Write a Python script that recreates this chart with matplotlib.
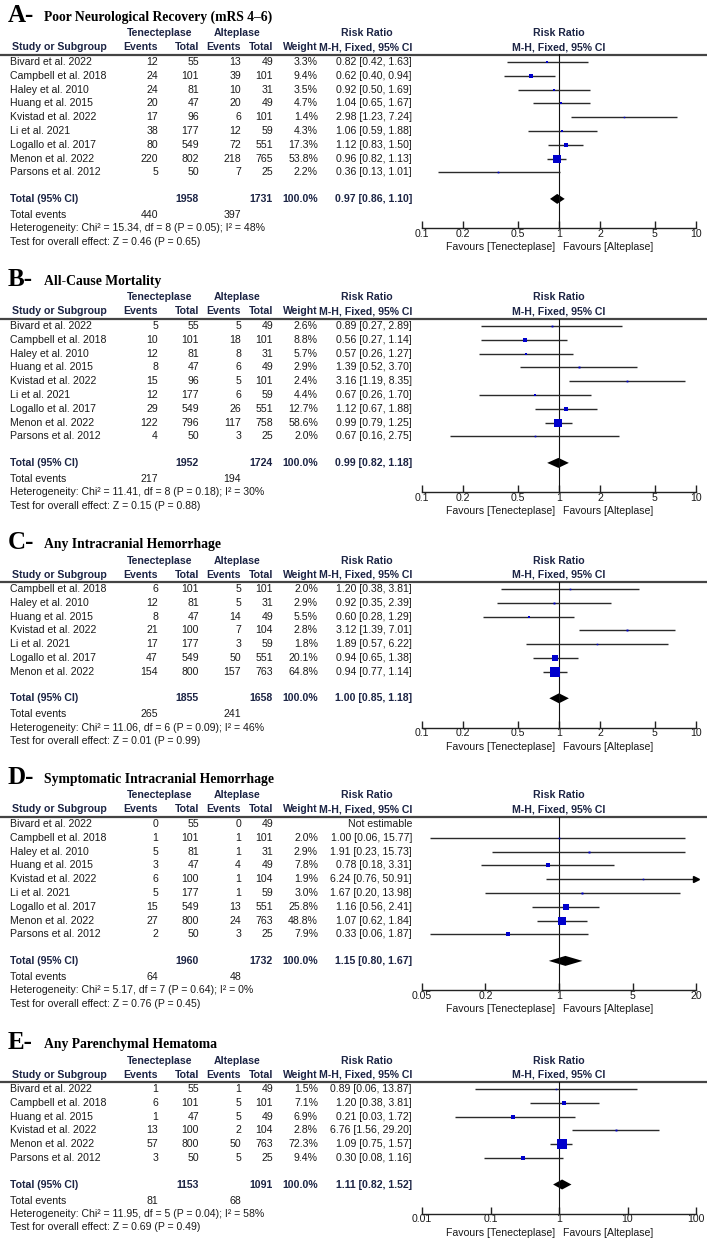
import matplotlib.pyplot as plt

plt.rcParams['font.family'] = ['Liberation Sans', 'DejaVu Sans']

W, H = 707, 1239
FS = 7.6
TXT = '#1a1a1a'
BOLD = '#1c2444'
BLUE = '#0000cc'

# ---- data ----
studies9 = ["Bivard et al. 2022", "Campbell et al. 2018", "Haley et al. 2010", "Huang et al. 2015",
            "Kvistad et al. 2022", "Li et al. 2021", "Logallo et al. 2017", "Menon et al. 2022",
            "Parsons et al. 2012"]

# A - poor neurological recovery
te_a = [12, 24, 24, 20, 17, 38, 80, 220, 5]
tn_a = [55, 101, 81, 47, 96, 177, 549, 802, 50]
ae_a = [13, 39, 10, 20, 6, 12, 72, 218, 7]
an_a = [49, 101, 31, 49, 101, 59, 551, 765, 25]
w_a = [3.3, 9.4, 3.5, 4.7, 1.4, 4.3, 17.3, 53.8, 2.2]
rr_a = [0.82, 0.62, 0.92, 1.04, 2.98, 1.06, 1.12, 0.96, 0.36]
lo_a = [0.42, 0.40, 0.50, 0.65, 1.23, 0.59, 0.83, 0.82, 0.13]
hi_a = [1.63, 0.94, 1.69, 1.67, 7.24, 1.88, 1.50, 1.13, 1.01]
tot_a = [1958, 1731, 0.97, 0.86, 1.10, 440, 397]
het_a = "Heterogeneity: Chi² = 15.34, df = 8 (P = 0.05); I² = 48%"
z_a = "Test for overall effect: Z = 0.46 (P = 0.65)"

# B - all-cause mortality
te_b = [5, 10, 12, 8, 15, 12, 29, 122, 4]
tn_b = [55, 101, 81, 47, 96, 177, 549, 796, 50]
ae_b = [5, 18, 8, 6, 5, 6, 26, 117, 3]
an_b = [49, 101, 31, 49, 101, 59, 551, 758, 25]
w_b = [2.6, 8.8, 5.7, 2.9, 2.4, 4.4, 12.7, 58.6, 2.0]
rr_b = [0.89, 0.56, 0.57, 1.39, 3.16, 0.67, 1.12, 0.99, 0.67]
lo_b = [0.27, 0.27, 0.26, 0.52, 1.19, 0.26, 0.67, 0.79, 0.16]
hi_b = [2.89, 1.14, 1.27, 3.70, 8.35, 1.70, 1.88, 1.25, 2.75]
tot_b = [1952, 1724, 0.99, 0.82, 1.18, 217, 194]
het_b = "Heterogeneity: Chi² = 11.41, df = 8 (P = 0.18); I² = 30%"
z_b = "Test for overall effect: Z = 0.15 (P = 0.88)"

# C - any intracranial hemorrhage
studies_c = ["Campbell et al. 2018", "Haley et al. 2010", "Huang et al. 2015", "Kvistad et al. 2022",
             "Li et al. 2021", "Logallo et al. 2017", "Menon et al. 2022"]
te_c = [6, 12, 8, 21, 17, 47, 154]
tn_c = [101, 81, 47, 100, 177, 549, 800]
ae_c = [5, 5, 14, 7, 3, 50, 157]
an_c = [101, 31, 49, 104, 59, 551, 763]
w_c = [2.0, 2.9, 5.5, 2.8, 1.8, 20.1, 64.8]
rr_c = [1.20, 0.92, 0.60, 3.12, 1.89, 0.94, 0.94]
lo_c = [0.38, 0.35, 0.28, 1.39, 0.57, 0.65, 0.77]
hi_c = [3.81, 2.39, 1.29, 7.01, 6.22, 1.38, 1.14]
tot_c = [1855, 1658, 1.00, 0.85, 1.18, 265, 241]
het_c = "Heterogeneity: Chi² = 11.06, df = 6 (P = 0.09); I² = 46%"
z_c = "Test for overall effect: Z = 0.01 (P = 0.99)"

# D - symptomatic intracranial hemorrhage
te_d = [0, 1, 5, 3, 6, 5, 15, 27, 2]
tn_d = [55, 101, 81, 47, 100, 177, 549, 800, 50]
ae_d = [0, 1, 1, 4, 1, 1, 13, 24, 3]
an_d = [49, 101, 31, 49, 104, 59, 551, 763, 25]
w_d = [None, 2.0, 2.9, 7.8, 1.9, 3.0, 25.8, 48.8, 7.9]
rr_d = [None, 1.00, 1.91, 0.78, 6.24, 1.67, 1.16, 1.07, 0.33]
lo_d = [None, 0.06, 0.23, 0.18, 0.76, 0.20, 0.56, 0.62, 0.06]
hi_d = [None, 15.77, 15.73, 3.31, 50.91, 13.98, 2.41, 1.84, 1.87]
tot_d = [1960, 1732, 1.15, 0.80, 1.67, 64, 48]
het_d = "Heterogeneity: Chi² = 5.17, df = 7 (P = 0.64); I² = 0%"
z_d = "Test for overall effect: Z = 0.76 (P = 0.45)"

# E - any parenchymal hematoma
studies_e = ["Bivard et al. 2022", "Campbell et al. 2018", "Huang et al. 2015", "Kvistad et al. 2022",
             "Menon et al. 2022", "Parsons et al. 2012"]
te_e = [1, 6, 1, 13, 57, 3]
tn_e = [55, 101, 47, 100, 800, 50]
ae_e = [1, 5, 5, 2, 50, 5]
an_e = [49, 101, 49, 104, 763, 25]
w_e = [1.5, 7.1, 6.9, 2.8, 72.3, 9.4]
rr_e = [0.89, 1.20, 0.21, 6.76, 1.09, 0.30]
lo_e = [0.06, 0.38, 0.03, 1.56, 0.75, 0.08]
hi_e = [13.87, 3.81, 1.72, 29.20, 1.57, 1.16]
tot_e = [1153, 1091, 1.11, 0.82, 1.52, 81, 68]
het_e = "Heterogeneity: Chi² = 11.95, df = 5 (P = 0.04); I² = 58%"
z_e = "Test for overall effect: Z = 0.69 (P = 0.49)"

ticks_abc = [0.1, 0.2, 0.5, 1, 2, 5, 10]
ticks_d = [0.05, 0.2, 1, 5, 20]
ticks_e = [0.01, 0.1, 1, 10, 100]

panels = [
    ("A-", "Poor Neurological Recovery (mRS 4–6)", studies9, te_a, tn_a, ae_a, an_a, w_a, rr_a, lo_a, hi_a, tot_a, het_a, z_a, ticks_abc),
    ("B-", "All-Cause Mortality", studies9, te_b, tn_b, ae_b, an_b, w_b, rr_b, lo_b, hi_b, tot_b, het_b, z_b, ticks_abc),
    ("C-", "Any Intracranial Hemorrhage", studies_c, te_c, tn_c, ae_c, an_c, w_c, rr_c, lo_c, hi_c, tot_c, het_c, z_c, ticks_abc),
    ("D-", "Symptomatic Intracranial Hemorrhage", studies9, te_d, tn_d, ae_d, an_d, w_d, rr_d, lo_d, hi_d, tot_d, het_d, z_d, ticks_d),
    ("E-", "Any Parenchymal Hematoma", studies_e, te_e, tn_e, ae_e, an_e, w_e, rr_e, lo_e, hi_e, tot_e, het_e, z_e, ticks_e),
]
title_y = [21, 285, 548, 783, 1048]

# column positions (px)
X_STUDY, X_TE, X_TN, X_AE, X_AN, X_W, X_RR = 10, 158, 199, 241, 273, 318, 412
PX0, PX1, PX_ONE = 422, 696, 559
ROW = 13.8

fig = plt.figure(figsize=(W / 100, H / 100), dpi=100)
tx = fig.add_axes([0, 0, 1, 1])
tx.set_xlim(0, W)
tx.set_ylim(H, 0)
tx.axis('off')


def t(x, y, s, ha='left', bold=False, **kw):
    tx.text(x, y, s, ha=ha, va='center', fontsize=FS,
            color=BOLD if bold else TXT, fontweight='bold' if bold else 'normal', **kw)


def fmt_rr(r, l, h):
    return f"{r:.2f} [{l:.2f}, {h:.2f}]"


for (letter, title, studies, te, tn, ae, an, w, rr, lo, hi, tot, het, zt, ticks), ty in zip(panels, title_y):
    tx.text(8, ty + 1, letter, ha='left', va='baseline', fontsize=18, fontweight='bold',
            family='Liberation Serif', color='black')
    tx.text(44, ty, title, ha='left', va='baseline', fontsize=9.8, fontweight='bold',
            family='Liberation Serif', color='black')

    h1, h2, line_y = ty + 12.5, ty + 26.5, ty + 33.5
    # headers
    t(160, h1, "Tenecteplase", ha='center', bold=True)
    t(237, h1, "Alteplase", ha='center', bold=True)
    t(367, h1, "Risk Ratio", ha='center', bold=True)
    t(PX_ONE, h1, "Risk Ratio", ha='center', bold=True)
    t(X_STUDY + 2, h2, "Study or Subgroup", bold=True)
    t(X_TE, h2, "Events", ha='right', bold=True)
    t(X_TN, h2, "Total", ha='right', bold=True)
    t(X_AE, h2, "Events", ha='right', bold=True)
    t(X_AN, h2, "Total", ha='right', bold=True)
    t(X_W, h2, "Weight", ha='right', bold=True)
    t(X_RR, h2, "M-H, Fixed, 95% CI", ha='right', bold=True)
    t(PX_ONE, h2, "M-H, Fixed, 95% CI", ha='center', bold=True)
    tx.plot([0, W], [line_y, line_y], color='#444444', lw=1.6, solid_capstyle='butt')

    rows_y = [ty + 41 + i * ROW for i in range(len(studies))]
    tot_y = rows_y[-1] + 26.5
    ev_y = tot_y + 16
    het_y = tot_y + 29.5
    z_y = tot_y + 43

    for i, y in enumerate(rows_y):
        t(X_STUDY, y, studies[i])
        t(X_TE, y, str(te[i]), ha='right')
        t(X_TN, y, str(tn[i]), ha='right')
        t(X_AE, y, str(ae[i]), ha='right')
        t(X_AN, y, str(an[i]), ha='right')
        if w[i] is None:
            t(X_RR, y, "Not estimable", ha='right')
        else:
            t(X_W, y, f"{w[i]:.1f}%", ha='right')
            t(X_RR, y, fmt_rr(rr[i], lo[i], hi[i]), ha='right')

    t(X_STUDY, tot_y, "Total (95% CI)", bold=True)
    t(X_TN, tot_y, str(tot[0]), ha='right', bold=True)
    t(X_AN, tot_y, str(tot[1]), ha='right', bold=True)
    t(X_W, tot_y, "100.0%", ha='right', bold=True)
    t(X_RR, tot_y, fmt_rr(tot[2], tot[3], tot[4]), ha='right', bold=True)
    t(X_STUDY, ev_y, "Total events")
    t(X_TE, ev_y, str(tot[5]), ha='right')
    t(X_AE, ev_y, str(tot[6]), ha='right')
    t(X_STUDY, het_y, het)
    t(X_STUDY, z_y, zt)

    # forest plot axes in pixel rows
    ax_y = het_y
    ax = fig.add_axes([PX0 / W, 1 - ax_y / H, (PX1 - PX0) / W, (ax_y - line_y) / H])
    ax.set_xscale('log')
    ax.set_xlim(ticks[0], ticks[-1])
    ax.set_ylim(ax_y, line_y)
    ax.patch.set_alpha(0)
    for s in ('top', 'left', 'right'):
        ax.spines[s].set_visible(False)
    ax.spines['bottom'].set_linewidth(1.0)
    ax.spines['bottom'].set_color('#222222')
    ax.set_yticks([])
    ax.set_xticks(ticks)
    ax.set_xticklabels([f"{v:g}" for v in ticks], fontsize=FS, color=TXT)
    ax.minorticks_off()
    ax.tick_params(axis='x', direction='in', length=5, width=1.0, pad=0.3, color='#222222')
    ax.axvline(1, color='#111111', lw=0.8)

    xmax = ticks[-1]
    for i, y in enumerate(rows_y):
        if rr[i] is None:
            continue
        ax.plot([lo[i], min(hi[i], xmax)], [y, y], color='#2a2a2a', lw=1.0, solid_capstyle='butt')
        if hi[i] > xmax:
            ax.plot([xmax], [y], marker='>', ms=4, color='black', clip_on=False)
        side = max(1.5, 1.15 * w[i] ** 0.5)
        ax.plot([rr[i]], [y], marker='s', ms=side / 1.389, color=BLUE, mec=BLUE, mew=0)
    ax.fill([tot[3], tot[2], tot[4], tot[2]], [tot_y, tot_y - 5, tot_y, tot_y + 5],
            color='black', lw=0)

    t(PX_ONE - 4, ax_y + 19, "Favours [Tenecteplase]", ha='right')
    t(PX_ONE + 4, ax_y + 19, "Favours [Alteplase]", ha='left')

fig.savefig("out.png", dpi=100, facecolor='white')
print("saved out.png")
